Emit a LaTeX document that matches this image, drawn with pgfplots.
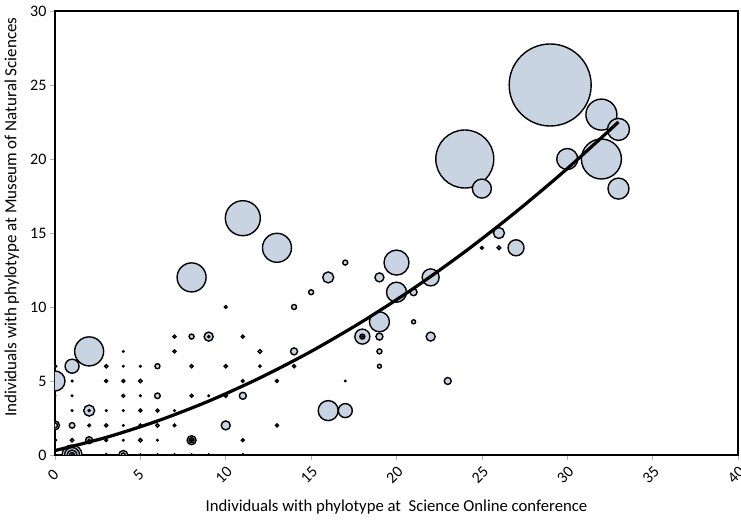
\documentclass[border=0pt]{standalone}
\usepackage{fontspec}
\setmainfont{Carlito}
\usepackage{pgfplots}
\pgfplotsset{compat=1.18}
\usepackage{pgfplotstable}
\usetikzlibrary{calc}
\definecolor{bubble}{RGB}{201,212,226}
\pgfplotstableread{
x y r
29 25 41
24 20 29
32 20 20
11 16 17.5
32 23 15.5
13 14 14.5
8 12 14.5
2 7 14.5
20 13 12.5
33 22 11
30 20 10.5
33 18 10.5
0 5 10
20 11 10
19 9 10
16 3 10
1 0 10
25 18 9.5
22 12 8.5
27 14 8
18 8 7.5
1 0 7.5
17 3 7
1 6 7
26 15 5.5
16 12 5.5
2 3 5.5
1 0 5
19 12 4.5
22 8 4.5
10 2 4.5
9 8 4.5
4 0 4.5
8 1 4.5
0 2 4.5
21 11 3.5
23 5 3.5
19 8 3.5
14 7 3.5
11 4 3.5
2 1 3.5
6 4 2.8
1 2 2.8
1 0 2.5
8 1 2.5
18 8 2.5
17 13 2.5
15 11 2.5
14 10 2.5
19 7 2.5
8 8 2.5
6 6 2.5
0 2 2.5
4 0 2
21 9 2
19 6 2
26 14 1.8
12 7 1.8
5 1 1.8
0 6 1.6
3 6 1.6
8 6 1.6
7 8 1.5
11 8 1.5
7 7 1.5
3 5 1.5
4 5 1.5
5 5 1.7
4 4 1.5
8 4 1.5
3 2 1.6
5 2 1.5
6 3 1.5
5 3 1.5
6 2 1.7
7 2 1.3
0 1 1.5
1 1 1.7
3 1 1.3
2 2 1.3
11 5 1.4
11 1 1.4
12 6 1.1
14 6 1.6
13 5 1.5
13 2 1.5
10 10 1.4
10 6 1.6
10 4 1.6
25 14 1.4
0 0 1.3
3 0 1.3
5 0 1.1
6 0 1.1
7 0 1.1
8 0 1.1
9 0 1.1
11 0 1.3
8 1 1.0
2 3 1.0
2 1 1.0
9 8 1.0
1 0 1.0
18 8 1.0
4 7 0.7
1 5 0.7
4 6 0.7
5 6 0.7
0 4 0.7
1 4 0.7
5 4 0.7
1 3 0.7
3 3 0.7
4 3 0.7
4 2 0.7
4 1 0.7
6 1 0.7
7 3 0.7
9 4 0.7
17 5 0.7
}\bubbles
\begin{document}
\begin{tikzpicture}
\begin{axis}[
  scale only axis,
  width=683pt, height=444pt,
  xmin=0, xmax=40, ymin=0, ymax=30,
  xtick={0,5,...,40}, ytick={0,5,...,30},
  axis line style={line width=2.6pt},
  tick style={gray!60, line width=0.6pt},
  tick align=outside,
  major tick length=5pt,
  xtick pos=bottom, ytick pos=left,
  font=\fontsize{17}{20}\selectfont,
  ticklabel style={font=\fontsize{16}{18}\selectfont},
  /pgf/number format/assume math mode=true,
  xticklabel style={yshift=-15pt, xshift=-2pt, rotate=45, anchor=center},
  clip marker paths=true,
  xlabel={Individuals with phylotype at\ \ Science Online conference},
  ylabel={Individuals with phylotype at Museum of Natural Sciences},
  xlabel style={at={(axis description cs:0.5,-0.128)}, anchor=base, font=\fontsize{16.7}{20}\selectfont},
  ylabel style={at={(axis description cs:-0.063,0.536)}, anchor=center, rotate=0},
]
\addplot[scatter, only marks, mark=*,
  scatter/use mapped color={draw=black, fill=bubble},
  mark options={line width=1.4pt},
  visualization depends on={\thisrow{r}\as\prad},
  scatter/@pre marker code/.append style={/tikz/mark size=\prad}]
  table[x=x, y=y, meta=r]{\bubbles};
\addplot[black, line width=3.2pt, smooth, no marks] coordinates {
(0,0.30) (3,1.19) (6,2.30) (9,3.64) (12,5.21) (15,7.00) (18,9.02)
(21,11.26) (24,13.73) (27,16.43) (30,19.35) (33,22.50)};
\end{axis}
\pgfresetboundingbox
\path ($(current axis.south west)+(-55pt,-64pt)$) rectangle ($(current axis.north east)+(3pt,11pt)$);
\end{tikzpicture}
\end{document}
